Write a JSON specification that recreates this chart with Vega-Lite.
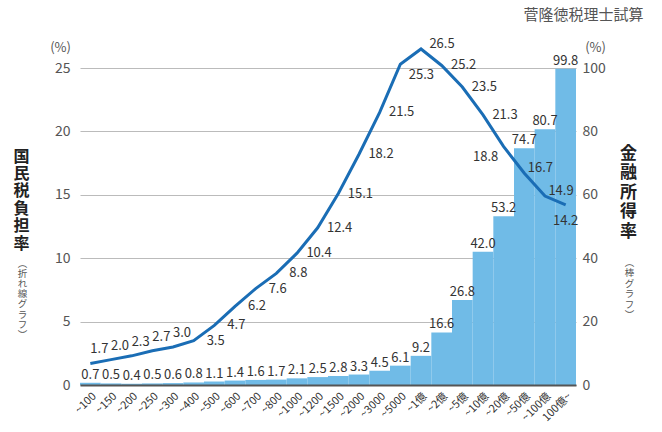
{
  "$schema": "https://vega.github.io/schema/vega-lite/v6.json",
  "width": 496,
  "height": 317,
  "autosize": "none",
  "padding": {"left": 80, "top": 68, "right": 86, "bottom": 47},
  "background": "white",
  "config": {
    "font": "Noto Sans CJK JP",
    "view": {"stroke": null},
    "text": {"font": "Noto Sans CJK JP"}
  },
  "data": {
    "values": [
      {"cat": "~100", "share": 0.7, "rate": 1.7},
      {"cat": "~150", "share": 0.5, "rate": 2.0},
      {"cat": "~200", "share": 0.4, "rate": 2.3},
      {"cat": "~250", "share": 0.5, "rate": 2.7},
      {"cat": "~300", "share": 0.6, "rate": 3.0},
      {"cat": "~400", "share": 0.8, "rate": 3.5},
      {"cat": "~500", "share": 1.1, "rate": 4.7},
      {"cat": "~600", "share": 1.4, "rate": 6.2},
      {"cat": "~700", "share": 1.6, "rate": 7.6},
      {"cat": "~800", "share": 1.7, "rate": 8.8},
      {"cat": "~1000", "share": 2.1, "rate": 10.4},
      {"cat": "~1200", "share": 2.5, "rate": 12.4},
      {"cat": "~1500", "share": 2.8, "rate": 15.1},
      {"cat": "~2000", "share": 3.3, "rate": 18.2},
      {"cat": "~3000", "share": 4.5, "rate": 21.5},
      {"cat": "~5000", "share": 6.1, "rate": 25.3},
      {"cat": "~1億", "share": 9.2, "rate": 26.5},
      {"cat": "~2億", "share": 16.6, "rate": 25.2},
      {"cat": "~5億", "share": 26.8, "rate": 23.5},
      {"cat": "~10億", "share": 42.0, "rate": 21.3},
      {"cat": "~20億", "share": 53.2, "rate": 18.8},
      {"cat": "~50億", "share": 74.7, "rate": 16.7},
      {"cat": "~100億", "share": 80.7, "rate": 14.9},
      {"cat": "100億~", "share": 99.8, "rate": 14.2}
    ]
  },
  "encoding": {
    "x": {
      "field": "cat",
      "type": "ordinal",
      "sort": null,
      "scale": {"paddingInner": 0, "paddingOuter": 0},
      "axis": {
        "title": null,
        "labelAngle": -45,
        "labelFontSize": 11,
        "labelColor": "#333",
        "ticks": false,
        "labelPadding": 5,
        "domainColor": "#555",
        "domainWidth": 2,
        "grid": false,
        "zindex": 1
      }
    }
  },
  "layer": [
    {
      "mark": {"type": "bar", "color": "#70bbe7"},
      "encoding": {
        "y": {
          "field": "share", "type": "quantitative",
          "scale": {"domain": [0, 100], "nice": false},
          "axis": {
            "orient": "right", "values": [0, 20, 40, 60, 80, 100],
            "labelFontSize": 14, "labelColor": "#555", "labelPadding": 6,
            "ticks": false, "domain": false, "grid": false,
            "title": "(%)", "titleAngle": 0, "titleX": 19, "titleY": -21,
            "titleAlign": "center", "titleBaseline": "middle",
            "titleFontSize": 13, "titleFontWeight": "normal", "titleColor": "#555"
          }
        }
      }
    },
    {
      "mark": {"type": "line", "color": "#1a6db5", "strokeWidth": 3},
      "encoding": {
        "y": {
          "field": "rate", "type": "quantitative",
          "scale": {"domain": [0, 25], "nice": false},
          "axis": {
            "orient": "left", "values": [0, 5, 10, 15, 20, 25],
            "labelFontSize": 14, "labelColor": "#555", "labelPadding": 10,
            "ticks": false, "domain": false, "grid": true, "gridColor": "#bbbbbb",
            "title": "(%)", "titleAngle": 0, "titleX": -20, "titleY": -21,
            "titleAlign": "center", "titleBaseline": "middle",
            "titleFontSize": 13, "titleFontWeight": "normal", "titleColor": "#555"
          }
        }
      }
    },
    {
      "transform": [{"filter": {"field": "cat", "oneOf": ["~100", "~150", "~200", "~250", "~300"]}}],
      "mark": {"type": "text", "dx": 9, "dy": -14, "fontSize": 13, "color": "#333", "align": "center", "baseline": "middle"},
      "encoding": {
        "y": {
          "field": "rate", "type": "quantitative",
          "scale": {"domain": [0, 25], "nice": false},
          "axis": {
            "orient": "left", "labels": false, "ticks": false, "domain": false, "grid": false,
            "title": ["国", "民", "税", "負", "担", "率"],
            "titleAngle": 0, "titleX": -59, "titleY": 80,
            "titleAlign": "center", "titleBaseline": "top",
            "titleFontSize": 16, "titleFontWeight": "bold", "titleColor": "#222",
            "titleLineHeight": 17.4
          }
        },
        "text": {"field": "rate", "type": "quantitative", "format": ".1f"}
      }
    },
    {
      "transform": [{"filter": {"field": "cat", "oneOf": ["~400", "~500", "~600", "~700", "~800", "~1000", "~1200", "~1500", "~2000", "~3000", "~2億", "~5億", "~10億"]}}],
      "mark": {"type": "text", "dx": 22, "dy": 0, "fontSize": 13, "color": "#333", "align": "center", "baseline": "middle"},
      "encoding": {
        "y": {
          "field": "rate", "type": "quantitative",
          "scale": {"domain": [0, 25], "nice": false},
          "axis": {
            "orient": "left", "labels": false, "ticks": false, "domain": false, "grid": false,
            "title": ["︵", "折", "れ", "線", "グ", "ラ", "フ", "︶"],
            "titleAngle": 0, "titleX": -58, "titleY": 190,
            "titleAlign": "center", "titleBaseline": "top",
            "titleFontSize": 9.5, "titleFontWeight": "normal", "titleColor": "#555",
            "titleLineHeight": 10.2
          }
        },
        "text": {"field": "rate", "type": "quantitative", "format": ".1f"}
      }
    },
    {
      "transform": [{"filter": {"field": "cat", "oneOf": ["~5000"]}}],
      "mark": {"type": "text", "dx": 21, "dy": 11, "fontSize": 13, "color": "#333", "align": "center", "baseline": "middle"},
      "encoding": {
        "y": {
          "field": "rate", "type": "quantitative",
          "scale": {"domain": [0, 25], "nice": false},
          "axis": {
            "orient": "right", "labels": false, "ticks": false, "domain": false, "grid": false,
            "title": ["︵", "棒", "グ", "ラ", "フ", "︶"],
            "titleAngle": 0, "titleX": 53, "titleY": 189,
            "titleAlign": "center", "titleBaseline": "top",
            "titleFontSize": 9.5, "titleFontWeight": "normal", "titleColor": "#555",
            "titleLineHeight": 10.5
          }
        },
        "text": {"field": "rate", "type": "quantitative", "format": ".1f"}
      }
    },
    {
      "transform": [{"filter": {"field": "cat", "oneOf": ["~1億"]}}],
      "mark": {"type": "text", "dx": 21, "dy": -5, "fontSize": 13, "color": "#333", "align": "center", "baseline": "middle"},
      "encoding": {
        "y": {
          "field": "rate", "type": "quantitative",
          "scale": {"domain": [0, 25], "nice": false},
          "axis": {
            "orient": "right", "labels": false, "ticks": false, "domain": false, "grid": false,
            "title": "菅隆徳税理士試算",
            "titleAngle": 0, "titleX": 7, "titleY": -54,
            "titleAlign": "center", "titleBaseline": "middle",
            "titleFontSize": 15, "titleFontWeight": "normal", "titleColor": "#555"
          }
        },
        "text": {"field": "rate", "type": "quantitative", "format": ".1f"}
      }
    },
    {
      "transform": [{"filter": {"field": "cat", "oneOf": ["~20億"]}}],
      "mark": {"type": "text", "dx": -18, "dy": 10, "fontSize": 13, "color": "#333", "align": "center", "baseline": "middle"},
      "encoding": {
        "y": {
          "field": "rate", "type": "quantitative",
          "scale": {"domain": [0, 25], "nice": false},
          "axis": null
        },
        "text": {"field": "rate", "type": "quantitative", "format": ".1f"}
      }
    },
    {
      "transform": [{"filter": {"field": "cat", "oneOf": ["~50億", "~100億"]}}],
      "mark": {"type": "text", "dx": 16, "dy": -5, "fontSize": 13, "color": "#333", "align": "center", "baseline": "middle"},
      "encoding": {
        "y": {
          "field": "rate", "type": "quantitative",
          "scale": {"domain": [0, 25], "nice": false},
          "axis": null
        },
        "text": {"field": "rate", "type": "quantitative", "format": ".1f"}
      }
    },
    {
      "transform": [{"filter": {"field": "cat", "oneOf": ["100億~"]}}],
      "mark": {"type": "text", "dx": 0, "dy": 16, "fontSize": 13, "color": "#333", "align": "center", "baseline": "middle"},
      "encoding": {
        "y": {
          "field": "rate", "type": "quantitative",
          "scale": {"domain": [0, 25], "nice": false},
          "axis": null
        },
        "text": {"field": "rate", "type": "quantitative", "format": ".1f"}
      }
    },
    {
      "mark": {"type": "text", "dy": -1, "fontSize": 13, "color": "#333", "align": "center", "baseline": "bottom"},
      "encoding": {
        "y": {
          "field": "share", "type": "quantitative",
          "scale": {"domain": [0, 100], "nice": false},
          "axis": {
            "orient": "right", "labels": false, "ticks": false, "domain": false, "grid": false,
            "title": ["金", "融", "所", "得", "率"],
            "titleAngle": 0, "titleX": 52, "titleY": 77,
            "titleAlign": "center", "titleBaseline": "top",
            "titleFontSize": 17, "titleFontWeight": "bold", "titleColor": "#222",
            "titleLineHeight": 19.5
          }
        },
        "text": {"field": "share", "type": "quantitative", "format": ".1f"}
      }
    }
  ],
  "resolve": {"scale": {"y": "independent"}, "axis": {"y": "independent"}}
}
